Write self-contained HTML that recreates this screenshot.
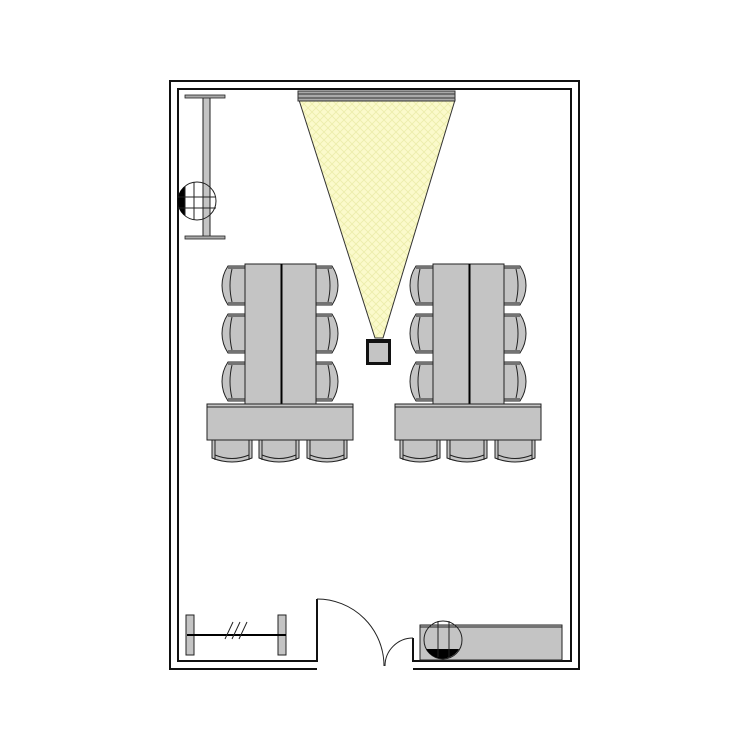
<!DOCTYPE html>
<html><head><meta charset="utf-8"><style>html,body{margin:0;padding:0;background:#fff}svg{display:block}</style></head>
<body>
<svg width="750" height="750" viewBox="0 0 750 750" xmlns="http://www.w3.org/2000/svg">
<defs>
<pattern id="lat" width="8" height="8" patternUnits="userSpaceOnUse">
<rect width="8" height="8" fill="#fbfacb"/>
<path d="M0 0L8 8M8 0L0 8" stroke="#ecedab" stroke-width="0.8"/>
</pattern>
<g id="chL">
<path d="M6 0H23V39H6Q0 30 0 19.5Q0 9 6 0Z" fill="#c4c4c4" stroke="#222" stroke-width="1"/>
<path d="M10 3Q6 19.5 10 36" fill="none" stroke="#222" stroke-width="1"/>
<path d="M6 2H23M6 37H23" stroke="#222" stroke-width="1"/>
</g>
<g id="chB">
<path d="M0 0H40V18Q20 26 0 18Z" fill="#c4c4c4" stroke="#222" stroke-width="1"/>
<path d="M3 0V20M37 0V20M3 15Q20 22 37 15" fill="none" stroke="#222" stroke-width="1"/>
</g>
<g id="grp">
<use href="#chL" x="222" y="266"/>
<use href="#chL" x="222" y="314"/>
<use href="#chL" x="222" y="362"/>
<use href="#chL" transform="translate(338,266) scale(-1,1)"/>
<use href="#chL" transform="translate(338,314) scale(-1,1)"/>
<use href="#chL" transform="translate(338,362) scale(-1,1)"/>
<rect x="245" y="264" width="36" height="141" fill="#c4c4c4" stroke="#222"/>
<rect x="282" y="264" width="34" height="141" fill="#c4c4c4" stroke="#222"/>
<line x1="281.5" y1="264" x2="281.5" y2="405" stroke="#000" stroke-width="2"/>
<use href="#chB" x="212" y="440"/>
<use href="#chB" x="259" y="440"/>
<use href="#chB" x="307" y="440"/>
<rect x="207" y="404" width="146" height="36" fill="#c4c4c4" stroke="#222"/>
<line x1="207" y1="407" x2="353" y2="407" stroke="#222"/>
</g>
</defs>
<path d="M317 669H170V81H579V669H413" fill="none" stroke="#111" stroke-width="2"/>
<path d="M317 599V661H178V89H571V661H413V638" fill="none" stroke="#111" stroke-width="2"/>
<path d="M317 599A67 67 0 0 1 384 666" fill="none" stroke="#222" stroke-width="1"/>
<path d="M413 638A28 28 0 0 0 385 666" fill="none" stroke="#222" stroke-width="1"/>
<polygon points="299,100 455,100 383,338 375,338" fill="url(#lat)" stroke="#333" stroke-width="1"/>
<rect x="298" y="91" width="157" height="10" fill="#aaa" stroke="#333" stroke-width="1"/>
<line x1="298" y1="94" x2="455" y2="94" stroke="#333"/>
<line x1="298" y1="98" x2="455" y2="98" stroke="#333"/>
<rect x="366" y="339" width="25" height="26" fill="#111"/>
<rect x="369" y="343" width="19" height="19" fill="#c4c4c4"/>
<rect x="203" y="97" width="7" height="141" fill="#c4c4c4" stroke="#222"/>
<rect x="185" y="95" width="40" height="3" fill="#aaa" stroke="#222" stroke-width="0.8"/>
<rect x="185" y="236" width="40" height="3" fill="#aaa" stroke="#222" stroke-width="0.8"/>
<circle cx="197" cy="201" r="19" fill="none" stroke="#222"/>
<path d="M185 186A19 19 0 0 0 185 216Z" fill="#000"/>
<path d="M185 186V216M178 197H216M178 208H216M194 182V220" stroke="#222" stroke-width="1" fill="none"/>
<use href="#grp"/>
<use href="#grp" x="188"/>
<rect x="186" y="615" width="8" height="40" fill="#c4c4c4" stroke="#222"/>
<rect x="278" y="615" width="8" height="40" fill="#c4c4c4" stroke="#222"/>
<line x1="187" y1="635" x2="286" y2="635" stroke="#000" stroke-width="2"/>
<path d="M225 639L233 622M232 639L240 622M239 639L247 622" stroke="#222" stroke-width="1"/>
<rect x="420" y="625" width="142" height="35" fill="#c4c4c4" stroke="#222"/>
<line x1="420" y1="627" x2="562" y2="627" stroke="#222"/>
<circle cx="443" cy="640" r="19" fill="none" stroke="#222"/>
<path d="M426 649A19 19 0 0 0 459 649Z" fill="#000"/>
<path d="M438 621V657M449 621V657" stroke="#222"/>
</svg>
</body></html>
